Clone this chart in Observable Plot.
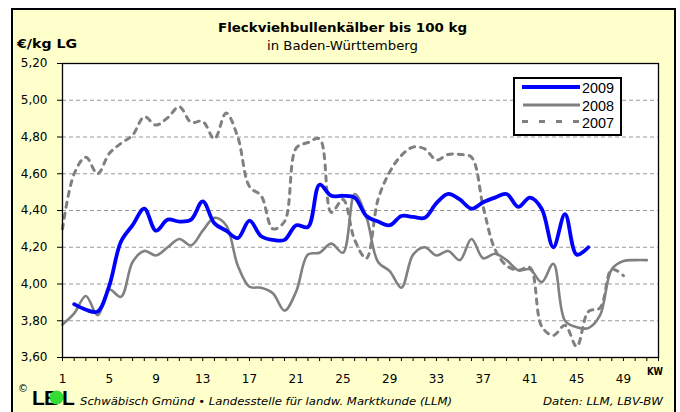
<!DOCTYPE html>
<html><head><meta charset="utf-8">
<script src="https://cdn.jsdelivr.net/npm/d3@7"></script>
<script src="https://cdn.jsdelivr.net/npm/@observablehq/plot@0.6"></script>
<style>
body{margin:0;background:#fff;}
#wrap{position:relative;width:680px;height:412px;overflow:hidden;font-family:"DejaVu Sans",sans-serif;}
#frame{position:absolute;left:11px;top:8px;width:665px;height:412px;background:#FFFFCC;border:2px solid #000;box-sizing:border-box;}
#chart{position:absolute;left:0;top:0;}
#overlay{position:absolute;left:0;top:0;}
</style></head><body>
<div id="wrap"><div id="frame"></div><div id="chart"></div><svg id="overlay" width="680" height="412"></svg></div>
<script>
// ---- data (€/kg LG by calendar week, KW) ----
const weeks2009 = d3.range(2, 47);
const values2009 = [3.89,3.86,3.85,3.99,4.23,4.32,4.41,4.29,4.35,4.34,4.35,4.45,4.33,4.29,4.25,4.345,4.26,4.24,4.24,4.32,4.31,4.54,4.48,4.48,4.47,4.37,4.34,4.32,4.37,4.365,4.36,4.44,4.49,4.46,4.41,4.445,4.47,4.49,4.42,4.47,4.41,4.20,4.38,4.16,4.20];
const weeks2008 = d3.range(1, 52);
const values2008 = [3.78,3.84,3.935,3.83,3.97,3.93,4.12,4.18,4.155,4.20,4.245,4.21,4.29,4.36,4.32,4.10,3.985,3.98,3.95,3.855,3.96,4.16,4.17,4.22,4.17,4.49,4.365,4.12,4.07,3.98,4.16,4.20,4.155,4.18,4.13,4.245,4.14,4.165,4.13,4.075,4.08,4.01,4.11,3.80,3.765,3.76,3.83,4.08,4.125,4.13,4.13];
const weeks2007 = d3.range(1, 50);
const values2007 = [4.30,4.60,4.69,4.60,4.71,4.765,4.81,4.91,4.865,4.905,4.965,4.88,4.885,4.79,4.93,4.80,4.53,4.48,4.30,4.34,4.74,4.77,4.79,4.39,4.46,4.24,4.14,4.46,4.61,4.70,4.745,4.735,4.675,4.705,4.705,4.69,4.42,4.19,4.10,4.075,4.09,3.77,3.72,3.775,3.66,3.85,3.87,4.08,4.045];
const seriesNames = ["2009", "2008", "2007"];
const yTicks = [3.6,3.8,4.0,4.2,4.4,4.6,4.8,5.0,5.2];
const gridTicks = [3.8,4.0,4.2,4.4,4.6,4.8,5.0];
const xLabelTicks = [1,5,9,13,17,21,25,29,33,37,41,45,49];
const xMinorTicks = d3.range(1, 53);
const titleText = "Fleckviehbullenkälber bis 100 kg";
const subtitleText = "in Baden-Württemberg";
const yUnitText = "€/kg LG";
const xUnitText = "KW";
const footerLeft = "Schwäbisch Gmünd • Landesstelle für landw. Marktkunde (LLM)";
const footerRight = "Daten: LLM, LBV-BW";

const toRows = (w, v) => w.map((k, i) => ({kw: k, price: v[i]}));
const d2009 = toRows(weeks2009, values2009);
const d2008 = toRows(weeks2008, values2008);
const d2007 = toRows(weeks2007, values2007);

const chart = Plot.plot({
  width: 680, height: 412,
  marginLeft: 62, marginRight: 22, marginTop: 63, marginBottom: 55,
  style: {background: "transparent", fontFamily: "DejaVu Sans", fontSize: "12px", color: "#000"},
  x: {domain: [1, 52]},
  y: {domain: [3.6, 5.2]},
  marks: [
    Plot.frame({fill: "white", stroke: "none"}),
    Plot.gridY(gridTicks, {stroke: "#999", strokeOpacity: 1, strokeDasharray: "4,3", strokeWidth: 1}),
    Plot.line(d2007, {x: "kw", y: "price", stroke: "#808080", strokeWidth: 3, strokeDasharray: "5,6", curve: "catmull-rom"}),
    Plot.line(d2008, {x: "kw", y: "price", stroke: "#808080", strokeWidth: 2.6, curve: "catmull-rom"}),
    Plot.line(d2009, {x: "kw", y: "price", stroke: "#0000FF", strokeWidth: 3.8, curve: "catmull-rom"}),
    Plot.frame({stroke: "black", strokeWidth: 1.3}),
    Plot.axisY(yTicks, {tickSize: 5, tickPadding: 10, tickFormat: d => d.toFixed(2).replace(".", ","), label: null, fontSize: 12}),
    Plot.axisX(xMinorTicks, {tickSize: 4, tickFormat: () => "", label: null}),
    Plot.axisX(xLabelTicks, {tickSize: 0, tickPadding: 17, label: null, fontSize: 12})
  ]
});
document.getElementById("chart").appendChild(chart);

// ---- overlay: titles, legend, footer ----
const ov = d3.select("#overlay");
function txt(x, y, s, o) {
  const t = ov.append("text").attr("x", x).attr("y", y).text(s)
    .attr("font-family", o.family || "DejaVu Sans")
    .attr("font-size", o.size || 12)
    .attr("font-weight", o.bold ? "bold" : "normal")
    .attr("font-style", o.italic ? "italic" : "normal")
    .attr("text-anchor", o.anchor || "start")
    .attr("fill", o.fill || "#000");
  if (o.len) t.attr("textLength", o.len).attr("lengthAdjust", "spacingAndGlyphs");
  return t;
}
txt(342.5, 32, titleText, {bold: true, size: 13, anchor: "middle", len: 249});
txt(342.5, 50, subtitleText, {size: 13, anchor: "middle", len: 151});
txt(17, 48, yUnitText, {bold: true, size: 13, len: 60});
txt(647, 375, xUnitText, {bold: true, size: 10, len: 16});

// legend
const lg = ov.append("g");
lg.append("rect").attr("x", 514).attr("y", 78).attr("width", 107).attr("height", 57)
  .attr("fill", "white").attr("stroke", "black").attr("stroke-width", 2);
const legendStyles = [
  {stroke: "#0000FF", w: 3.8, dash: null, y: 87, x1: 522},
  {stroke: "#808080", w: 2.8, dash: null, y: 105, x1: 523},
  {stroke: "#808080", w: 3, dash: "6,11", y: 121.5, x1: 522}
];
seriesNames.forEach((n, i) => {
  const s = legendStyles[i];
  const l = lg.append("line").attr("x1", s.x1).attr("x2", 580).attr("y1", s.y).attr("y2", s.y)
    .attr("stroke", s.stroke).attr("stroke-width", s.w);
  if (s.dash) l.attr("stroke-dasharray", s.dash);
  txt(582, s.y + 6, n, {family: "Liberation Sans", size: 14, len: 32});
});

// footer with LEL logo
txt(18, 392, "©", {size: 10});
txt(32, 405, "L", {family: "Liberation Sans", bold: true, size: 21});
txt(44, 405, "E", {family: "Liberation Sans", bold: true, size: 21});
ov.append("circle").attr("cx", 56.5).attr("cy", 397.5).attr("r", 7).attr("fill", "#33DD33");
txt(62, 405, "L", {family: "Liberation Sans", bold: true, size: 21});
txt(80, 405, footerLeft, {italic: true, size: 11, len: 372});
txt(543, 405, footerRight, {italic: true, size: 11, len: 120});
</script>
</body></html>
